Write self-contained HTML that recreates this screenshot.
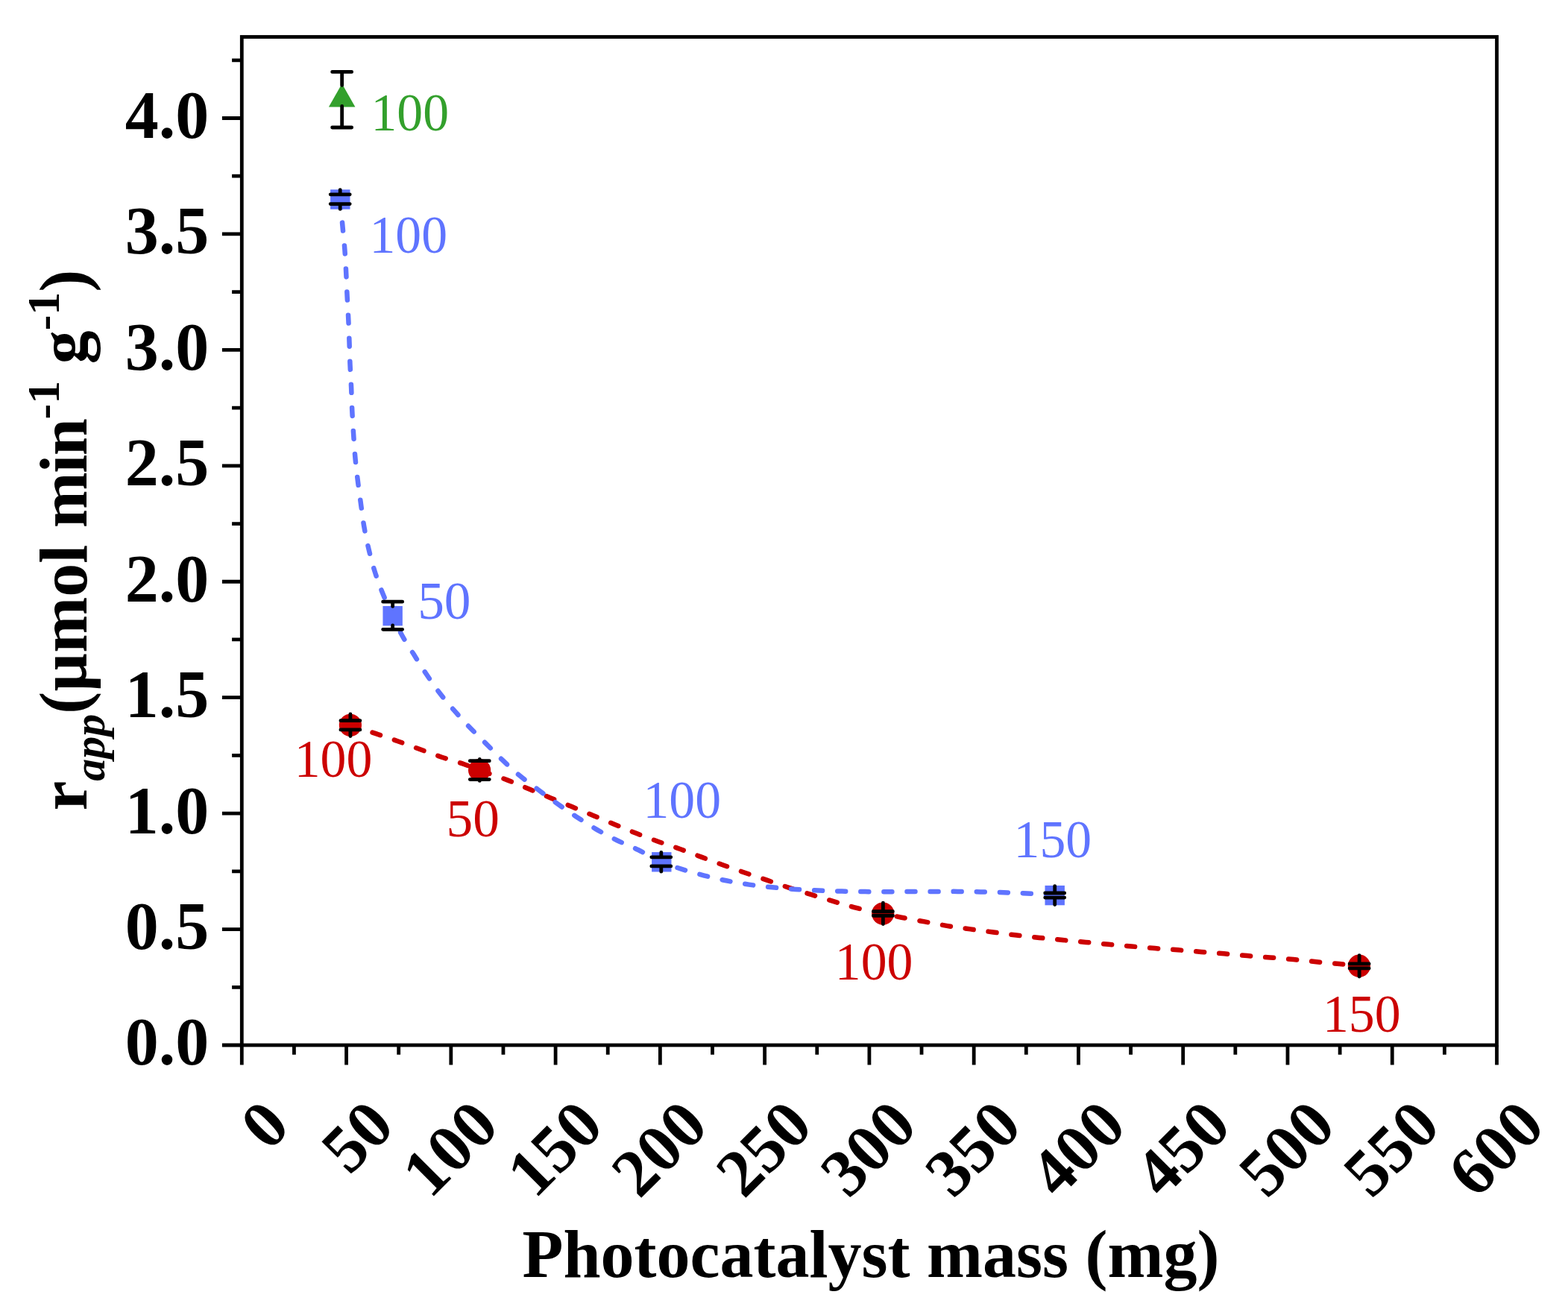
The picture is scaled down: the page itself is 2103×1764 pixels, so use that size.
<!DOCTYPE html><html><head><meta charset="utf-8"><style>html,body{margin:0;padding:0;background:#fff;overflow:hidden}svg{display:block}</style></head><body>
<svg width="2103" height="1764" viewBox="0 0 2103 1764">
<rect width="2103" height="1764" fill="#fff"/>
<path d="M469.90,972.80 C481.33,976.60 493.23,980.50 504.20,984.20 C514.33,987.62 523.60,990.72 533.40,994.20 C543.40,997.75 553.64,1001.68 563.60,1005.30 C573.33,1008.84 582.78,1012.42 592.50,1015.70 C602.25,1018.99 613.03,1021.87 622.00,1025.00 C629.67,1027.68 635.02,1030.11 643.10,1033.10 C653.88,1037.09 669.28,1042.10 681.00,1046.60 C691.31,1050.56 700.20,1054.53 709.80,1058.50 C719.40,1062.47 729.00,1066.43 738.60,1070.40 C748.20,1074.37 757.80,1078.33 767.40,1082.30 C777.00,1086.27 786.60,1090.22 796.20,1094.20 C805.80,1098.18 815.39,1102.22 825.00,1106.20 C834.62,1110.19 844.17,1114.28 853.90,1118.10 C863.70,1121.95 873.76,1125.68 883.60,1129.20 C893.22,1132.64 902.73,1135.57 912.30,1139.00 C921.99,1142.47 931.68,1146.29 941.40,1149.90 C951.15,1153.52 960.93,1157.18 970.70,1160.70 C980.43,1164.21 990.14,1167.63 999.90,1171.00 C1009.67,1174.37 1019.54,1177.59 1029.30,1180.90 C1039.00,1184.19 1048.51,1187.61 1058.30,1190.80 C1068.24,1194.04 1078.42,1197.10 1088.50,1200.20 C1098.59,1203.30 1108.73,1206.44 1118.80,1209.40 C1128.76,1212.33 1138.18,1215.30 1148.60,1217.90 C1159.89,1220.71 1173.39,1223.22 1184.20,1225.50 C1193.24,1227.41 1200.33,1228.98 1209.10,1230.70 C1218.88,1232.62 1229.86,1234.50 1240.20,1236.40 C1250.49,1238.30 1260.75,1240.43 1271.00,1242.10 C1281.15,1243.76 1291.23,1245.00 1301.40,1246.40 C1311.63,1247.80 1321.91,1249.15 1332.20,1250.50 C1342.54,1251.85 1352.95,1253.26 1363.30,1254.50 C1373.59,1255.73 1383.80,1256.82 1394.10,1257.90 C1404.46,1258.99 1414.93,1260.00 1425.30,1261.00 C1435.60,1262.00 1445.84,1262.93 1456.10,1263.90 C1466.34,1264.87 1476.55,1265.87 1486.80,1266.80 C1497.08,1267.73 1507.37,1268.62 1517.70,1269.50 C1528.07,1270.39 1538.50,1271.30 1548.90,1272.10 C1559.30,1272.90 1569.71,1273.50 1580.10,1274.30 C1590.48,1275.10 1600.87,1276.06 1611.20,1276.90 C1621.44,1277.73 1631.56,1278.44 1641.80,1279.30 C1652.13,1280.17 1662.56,1281.23 1672.90,1282.10 C1683.19,1282.96 1693.41,1283.69 1703.70,1284.50 C1714.04,1285.32 1724.47,1286.05 1734.80,1287.00 C1745.07,1287.95 1755.23,1289.19 1765.50,1290.20 C1775.83,1291.22 1786.67,1292.15 1796.60,1293.10 C1805.74,1293.98 1814.13,1294.83 1822.90,1295.70" fill="none" stroke="#cc0000" stroke-width="6.50" stroke-dasharray="11 20.1" stroke-linecap="round" stroke-linejoin="round"/>
<path d="M456.30,267.50 C457.37,279.63 458.45,292.24 459.50,303.90 C460.48,314.70 461.61,324.74 462.40,335.10 C463.18,345.37 463.67,355.52 464.20,365.80 C464.74,376.16 465.08,386.59 465.60,397.00 C466.12,407.43 466.81,417.95 467.30,428.30 C467.78,438.48 468.13,448.50 468.50,458.60 C468.87,468.70 469.07,478.78 469.50,488.90 C469.93,499.08 470.64,509.19 471.10,519.50 C471.57,530.02 471.79,540.88 472.30,551.40 C472.80,561.71 473.43,571.70 474.10,582.00 C474.79,592.52 475.44,603.39 476.40,613.90 C477.34,624.22 478.55,634.30 479.80,644.50 C481.05,654.73 482.50,664.97 483.90,675.20 C485.30,685.44 486.44,695.69 488.20,705.90 C489.97,716.16 492.10,726.51 494.50,736.60 C496.87,746.57 499.45,756.42 502.50,766.10 C505.53,775.72 508.85,784.84 512.70,794.50 C516.83,804.85 522.07,816.23 526.65,826.20 C530.79,835.22 534.30,843.37 538.90,851.80 C543.65,860.51 549.42,869.01 554.80,877.60 C560.22,886.25 565.64,895.02 571.30,903.50 C576.91,911.92 582.46,920.23 588.60,928.30 C594.82,936.47 601.70,944.49 608.40,952.20 C614.94,959.71 621.42,966.80 628.30,974.00 C635.34,981.37 642.83,988.53 650.20,995.90 C657.72,1003.42 665.31,1011.35 673.00,1018.70 C680.54,1025.91 687.96,1032.98 695.90,1039.60 C703.86,1046.24 712.32,1052.24 720.70,1058.50 C729.19,1064.84 737.85,1071.26 746.50,1077.40 C755.08,1083.49 763.64,1089.43 772.40,1095.20 C781.20,1101.00 790.09,1106.79 799.20,1112.10 C808.29,1117.39 817.56,1122.35 827.00,1127.00 C836.46,1131.66 846.13,1135.27 855.90,1140.00 C866.22,1144.99 877.16,1151.89 887.30,1156.30 C896.29,1160.21 904.41,1162.68 913.50,1165.60 C923.16,1168.70 933.59,1171.68 943.70,1174.30 C953.76,1176.91 963.85,1179.25 974.00,1181.30 C984.15,1183.35 994.34,1185.10 1004.60,1186.60 C1014.90,1188.10 1025.33,1189.23 1035.70,1190.30 C1046.03,1191.36 1056.34,1192.28 1066.70,1193.00 C1077.08,1193.72 1087.50,1194.17 1097.90,1194.60 C1108.30,1195.03 1118.69,1195.35 1129.10,1195.60 C1139.52,1195.85 1150.00,1195.98 1160.40,1196.10 C1170.73,1196.22 1181.01,1196.33 1191.30,1196.30 C1201.58,1196.27 1211.80,1195.97 1222.10,1195.90 C1232.47,1195.83 1242.91,1195.90 1253.30,1195.90 C1263.67,1195.90 1274.06,1195.82 1284.40,1195.90 C1294.69,1195.98 1304.89,1196.18 1315.20,1196.40 C1325.59,1196.62 1336.09,1196.85 1346.50,1197.20 C1356.86,1197.55 1366.70,1197.90 1377.50,1198.50 C1389.34,1199.16 1402.30,1200.23 1414.70,1201.10" fill="none" stroke="#5f74ff" stroke-width="6.50" stroke-dasharray="11 20.1" stroke-linecap="round" stroke-linejoin="round"/>
<rect x="443.10" y="254.30" width="26.40" height="26.40" fill="#5f74ff"/>
<rect x="513.45" y="813.00" width="26.40" height="26.40" fill="#5f74ff"/>
<rect x="874.10" y="1143.10" width="26.40" height="26.40" fill="#5f74ff"/>
<rect x="1401.50" y="1187.90" width="26.40" height="26.40" fill="#5f74ff"/>
<circle cx="469.90" cy="972.80" r="15.10" fill="#cc0000"/>
<circle cx="643.10" cy="1033.10" r="15.10" fill="#cc0000"/>
<circle cx="1184.20" cy="1225.50" r="15.10" fill="#cc0000"/>
<circle cx="1822.90" cy="1295.70" r="15.10" fill="#cc0000"/>
<polygon points="458.65,112.3 476.4,143.5 440.9,143.5" fill="#33a02c"/>
<path d="M458.65,96.40V114.40 M458.65,142.30V171.00 M445.65,96.40H471.65 M445.65,171.00H471.65 M456.20,254.60V260.85 M456.20,273.56V280.40 M443.20,260.85H469.20 M443.20,273.56H469.20 M526.65,807.20V813.40 M526.65,839.00V844.30 M513.65,807.20H539.65 M513.65,844.30H539.65 M886.80,1143.40V1149.80 M886.80,1161.90V1169.20 M873.80,1149.80H899.80 M873.80,1161.90H899.80 M1414.70,1188.60V1198.00 M1414.70,1204.10V1213.60 M1401.70,1198.00H1427.70 M1401.70,1204.10H1427.70 M469.90,957.80V966.70 M469.90,978.90V987.60 M456.90,966.70H482.90 M456.90,978.90H482.90 M643.30,1018.40V1020.70 M643.30,1045.60V1047.40 M630.30,1020.70H656.30 M630.30,1045.60H656.30 M1184.40,1211.20V1222.70 M1184.40,1228.25V1239.60 M1171.40,1222.70H1197.40 M1171.40,1228.25H1197.40 M1823.10,1281.60V1292.90 M1823.10,1298.90V1310.00 M1810.10,1292.90H1836.10 M1810.10,1298.90H1836.10" fill="none" stroke="#000" stroke-width="4.80" stroke-linecap="round"/>
<rect x="324.30" y="49.50" width="1683.20" height="1352.50" fill="none" stroke="#000" stroke-width="4.80" stroke-linejoin="miter"/>
<path d="M297.90,1402.00H324.30 M311.10,1324.28H324.30 M297.90,1246.56H324.30 M311.10,1168.84H324.30 M297.90,1091.12H324.30 M311.10,1013.41H324.30 M297.90,935.69H324.30 M311.10,857.97H324.30 M297.90,780.25H324.30 M311.10,702.53H324.30 M297.90,624.81H324.30 M311.10,547.09H324.30 M297.90,469.38H324.30 M311.10,391.66H324.30 M297.90,313.94H324.30 M311.10,236.22H324.30 M297.90,158.50H324.30 M311.10,80.78H324.30 M324.30,1402.00V1428.60 M394.43,1402.00V1414.70 M464.57,1402.00V1428.60 M534.70,1402.00V1414.70 M604.83,1402.00V1428.60 M674.97,1402.00V1414.70 M745.10,1402.00V1428.60 M815.23,1402.00V1414.70 M885.37,1402.00V1428.60 M955.50,1402.00V1414.70 M1025.63,1402.00V1428.60 M1095.77,1402.00V1414.70 M1165.90,1402.00V1428.60 M1236.03,1402.00V1414.70 M1306.17,1402.00V1428.60 M1376.30,1402.00V1414.70 M1446.43,1402.00V1428.60 M1516.57,1402.00V1414.70 M1586.70,1402.00V1428.60 M1656.83,1402.00V1414.70 M1726.97,1402.00V1428.60 M1797.10,1402.00V1414.70 M1867.23,1402.00V1428.60 M1937.37,1402.00V1414.70 M2007.50,1402.00V1428.60" fill="none" stroke="#000" stroke-width="4.80"/>
<text x="280.2" y="1428.40" font-family="'Liberation Serif', serif" font-weight="bold" font-size="90" text-anchor="end">0.0</text>
<text x="280.2" y="1272.96" font-family="'Liberation Serif', serif" font-weight="bold" font-size="90" text-anchor="end">0.5</text>
<text x="280.2" y="1117.53" font-family="'Liberation Serif', serif" font-weight="bold" font-size="90" text-anchor="end">1.0</text>
<text x="280.2" y="962.09" font-family="'Liberation Serif', serif" font-weight="bold" font-size="90" text-anchor="end">1.5</text>
<text x="280.2" y="806.65" font-family="'Liberation Serif', serif" font-weight="bold" font-size="90" text-anchor="end">2.0</text>
<text x="280.2" y="651.21" font-family="'Liberation Serif', serif" font-weight="bold" font-size="90" text-anchor="end">2.5</text>
<text x="280.2" y="495.77" font-family="'Liberation Serif', serif" font-weight="bold" font-size="90" text-anchor="end">3.0</text>
<text x="280.2" y="340.34" font-family="'Liberation Serif', serif" font-weight="bold" font-size="90" text-anchor="end">3.5</text>
<text x="280.2" y="184.90" font-family="'Liberation Serif', serif" font-weight="bold" font-size="90" text-anchor="end">4.0</text>
<text x="0" y="0" transform="translate(391.80,1514.00) rotate(-45)" font-family="'Liberation Serif', serif" font-weight="bold" font-size="90" text-anchor="end">0</text>
<text x="0" y="0" transform="translate(532.07,1514.00) rotate(-45)" font-family="'Liberation Serif', serif" font-weight="bold" font-size="90" text-anchor="end">50</text>
<text x="0" y="0" transform="translate(672.33,1514.00) rotate(-45)" font-family="'Liberation Serif', serif" font-weight="bold" font-size="90" text-anchor="end">100</text>
<text x="0" y="0" transform="translate(812.60,1514.00) rotate(-45)" font-family="'Liberation Serif', serif" font-weight="bold" font-size="90" text-anchor="end">150</text>
<text x="0" y="0" transform="translate(952.87,1514.00) rotate(-45)" font-family="'Liberation Serif', serif" font-weight="bold" font-size="90" text-anchor="end">200</text>
<text x="0" y="0" transform="translate(1093.13,1514.00) rotate(-45)" font-family="'Liberation Serif', serif" font-weight="bold" font-size="90" text-anchor="end">250</text>
<text x="0" y="0" transform="translate(1233.40,1514.00) rotate(-45)" font-family="'Liberation Serif', serif" font-weight="bold" font-size="90" text-anchor="end">300</text>
<text x="0" y="0" transform="translate(1373.67,1514.00) rotate(-45)" font-family="'Liberation Serif', serif" font-weight="bold" font-size="90" text-anchor="end">350</text>
<text x="0" y="0" transform="translate(1513.93,1514.00) rotate(-45)" font-family="'Liberation Serif', serif" font-weight="bold" font-size="90" text-anchor="end">400</text>
<text x="0" y="0" transform="translate(1654.20,1514.00) rotate(-45)" font-family="'Liberation Serif', serif" font-weight="bold" font-size="90" text-anchor="end">450</text>
<text x="0" y="0" transform="translate(1794.47,1514.00) rotate(-45)" font-family="'Liberation Serif', serif" font-weight="bold" font-size="90" text-anchor="end">500</text>
<text x="0" y="0" transform="translate(1934.73,1514.00) rotate(-45)" font-family="'Liberation Serif', serif" font-weight="bold" font-size="90" text-anchor="end">550</text>
<text x="0" y="0" transform="translate(2075.00,1514.00) rotate(-45)" font-family="'Liberation Serif', serif" font-weight="bold" font-size="90" text-anchor="end">600</text>
<text x="700.5" y="1712.8" font-family="'Liberation Serif', serif" font-weight="bold" font-size="90">Photocatalyst mass (mg)</text>
<text transform="translate(115.9,1087.6) rotate(-90)" font-family="'Liberation Serif', serif" font-weight="bold" font-size="90">r<tspan font-style="italic" font-size="60" dy="23.6">app</tspan><tspan dy="-23.6">(µmol </tspan><tspan style="letter-spacing:-1.4px">min</tspan><tspan font-size="62" dy="-37.2">-1</tspan><tspan dy="37.2"> g</tspan><tspan font-size="62" dy="-37.2">-1</tspan><tspan dy="37.2">)</tspan></text>
<text transform="translate(551.45,175.30) scale(0.982,1.000)" x="-1.78" y="0" font-family="'Liberation Serif', serif" font-size="71" fill="#33a02c" text-anchor="middle">100</text>
<text transform="translate(549.50,339.30) scale(0.982,1.000)" x="-1.78" y="0" font-family="'Liberation Serif', serif" font-size="71" fill="#5f74ff" text-anchor="middle">100</text>
<text transform="translate(596.50,830.30) scale(1.005,1.000)" x="-0.71" y="0" font-family="'Liberation Serif', serif" font-size="71" fill="#5f74ff" text-anchor="middle">50</text>
<text transform="translate(916.45,1097.00) scale(0.982,1.000)" x="-1.78" y="0" font-family="'Liberation Serif', serif" font-size="71" fill="#5f74ff" text-anchor="middle">100</text>
<text transform="translate(1413.65,1150.10) scale(0.982,1.000)" x="-1.78" y="0" font-family="'Liberation Serif', serif" font-size="71" fill="#5f74ff" text-anchor="middle">150</text>
<text transform="translate(448.70,1042.20) scale(0.982,1.000)" x="-1.78" y="0" font-family="'Liberation Serif', serif" font-size="71" fill="#cc0000" text-anchor="middle">100</text>
<text transform="translate(634.85,1122.20) scale(1.005,1.000)" x="-0.71" y="0" font-family="'Liberation Serif', serif" font-size="71" fill="#cc0000" text-anchor="middle">50</text>
<text transform="translate(1173.90,1314.00) scale(0.982,1.000)" x="-1.78" y="0" font-family="'Liberation Serif', serif" font-size="71" fill="#cc0000" text-anchor="middle">100</text>
<text transform="translate(1828.00,1384.40) scale(0.982,1.000)" x="-1.78" y="0" font-family="'Liberation Serif', serif" font-size="71" fill="#cc0000" text-anchor="middle">150</text>
</svg></body></html>
